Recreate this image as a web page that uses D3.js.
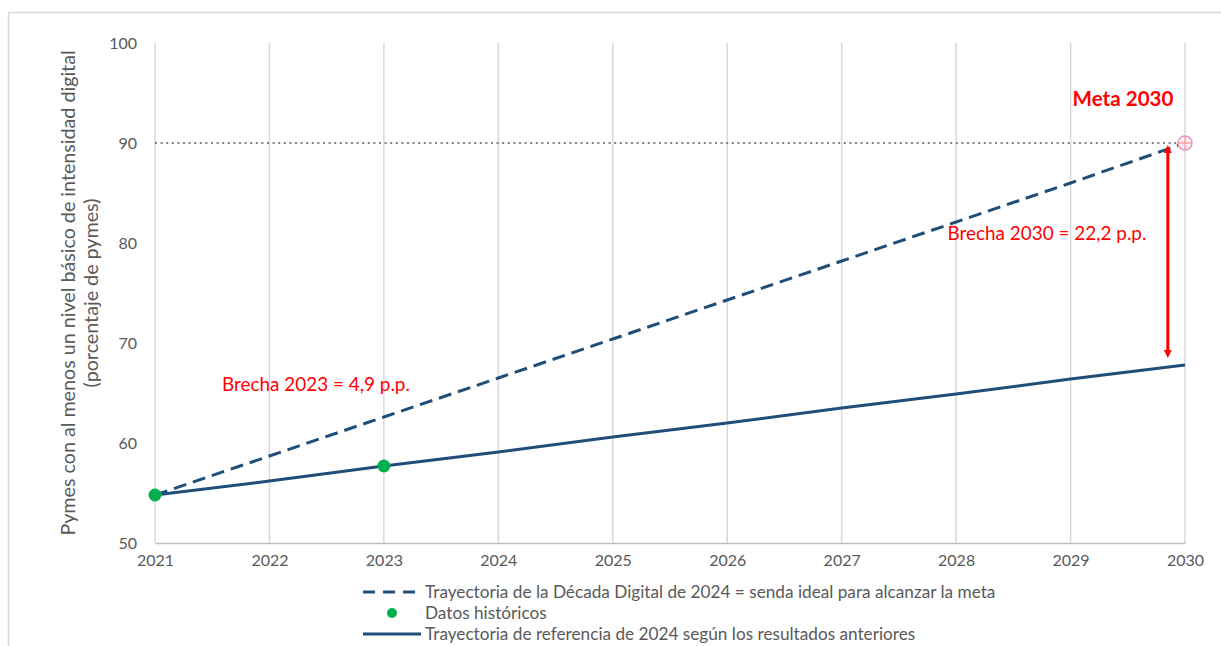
<!DOCTYPE html>
<html>
<head>
<meta charset="utf-8">
<script src="https://cdn.jsdelivr.net/npm/d3@7/dist/d3.min.js"></script>
<style>
  html, body { margin: 0; padding: 0; background: #fff; }
  svg { display: block; font-family: Lato, "Open Sans", sans-serif; }
</style>
</head>
<body>
<svg id="chart" width="1221" height="646"></svg>
<script>
// Years on the horizontal axis
const years = [2021, 2022, 2023, 2024, 2025, 2026, 2027, 2028, 2029, 2030];
// Ideal path of the 2024 Digital Decade towards the 2030 target
const idealPath = [54.8, 58.7, 62.6, 66.5, 70.4, 74.3, 78.2, 82.1, 86.0, 90.0];
// Reference trajectory based on previous results
const referencePath = [54.8, 56.2, 57.7, 59.1, 60.6, 62.0, 63.5, 64.9, 66.4, 67.8];
// Historical observations
const histYears = [2021, 2023];
const histValues = [54.8, 57.7];
// Target
const targetYear = 2030;
const targetValue = 90;
// Gap arrow (year, from, to)
const gapYear = 2029.85;
const gapFrom = 89.4;
const gapTo = 68.9;
const yTicks = [50, 60, 70, 80, 90, 100];
const legendLabels = [
  "Trayectoria de la Década Digital de 2024 = senda ideal para alcanzar la meta",
  "Datos históricos",
  "Trayectoria de referencia de 2024 según los resultados anteriores"
];

const navy = "#1f4e79", green = "#00b050", red = "#ff0000", grey = "#595959", grid = "#d9d9d9";

const svg = d3.select("#chart");
const x = d3.scaleLinear().domain([2021, 2030]).range([155, 1185]);
const y = d3.scaleLinear().domain([50, 100]).range([543, 43]);

// Outer frame
svg.append("rect").attr("x", 8.5).attr("y", 12.5).attr("width", 1240).attr("height", 660)
  .attr("fill", "none").attr("stroke", grid).attr("stroke-width", 1.5);

// Vertical gridlines
svg.append("g").selectAll("line").data(years).join("line")
  .attr("x1", d => x(d)).attr("x2", d => x(d))
  .attr("y1", y(100)).attr("y2", y(50))
  .attr("stroke", grid).attr("stroke-width", 1.5);

// X axis
const xAxis = svg.append("g").attr("transform", `translate(0,${y(50)})`)
  .call(d3.axisBottom(x).tickValues(years).tickFormat(d3.format("d")).tickSize(0).tickPadding(12));
xAxis.select(".domain").attr("stroke", "#bfbfbf").attr("stroke-width", 1.5);
xAxis.selectAll("text").attr("fill", grey).style("font-size", "16px").style("font-family", "Lato, sans-serif");

// Y axis
const yAxis = svg.append("g").attr("transform", `translate(${x(2021)},0)`)
  .call(d3.axisLeft(y).tickValues(yTicks).tickSize(0).tickPadding(18));
yAxis.select(".domain").remove();
yAxis.selectAll("text").attr("fill", grey).style("font-size", "16px").style("font-family", "Lato, sans-serif");

// Y axis title
const yTitle = svg.append("text").attr("transform", "translate(0,293) rotate(-90)")
  .attr("text-anchor", "middle").attr("fill", grey).style("font-size", "19.7px");
yTitle.append("tspan").attr("x", 0).attr("y", 75).text("Pymes con al menos un nivel básico de intensidad digital");
yTitle.append("tspan").attr("x", 0).attr("y", 98).text("(porcentaje de pymes)");

// Target level (dotted)
svg.append("line").attr("x1", x(2021)).attr("x2", x(2030) - 6)
  .attr("y1", y(targetValue)).attr("y2", y(targetValue))
  .attr("stroke", "#7f7f7f").attr("stroke-width", 2.2).attr("stroke-dasharray", "2 3.6");

const line = d3.line().x((d, i) => x(years[i])).y(d => y(d));

// Ideal path (dashed)
svg.append("path").datum(idealPath).attr("d", line)
  .attr("fill", "none").attr("stroke", navy).attr("stroke-width", 3)
  .attr("stroke-dasharray", "13 7");

// Reference trajectory (solid)
svg.append("path").datum(referencePath).attr("d", line)
  .attr("fill", "none").attr("stroke", navy).attr("stroke-width", 3);

// Historical points
svg.append("g").selectAll("circle").data(histYears).join("circle")
  .attr("cx", d => x(d)).attr("cy", (d, i) => y(histValues[i])).attr("r", 6.5)
  .attr("fill", green);

// Target marker
const tg = svg.append("g").attr("transform", `translate(${x(targetYear)},${y(targetValue)})`);
tg.append("circle").attr("r", 7).attr("fill", "#fdeef5").attr("stroke", "#e59ac3").attr("stroke-width", 1.5);
tg.append("line").attr("x1", -7).attr("x2", 7).attr("stroke", "#f08080").attr("stroke-width", 1);
tg.append("line").attr("y1", -7).attr("y2", 7).attr("stroke", "#f08080").attr("stroke-width", 1);

// Gap arrow
const defs = svg.append("defs");
defs.append("marker").attr("id", "arr")
  .attr("viewBox", "0 0 10 10").attr("refX", 5).attr("refY", 5)
  .attr("markerWidth", 2.6).attr("markerHeight", 2.6)
  .attr("orient", "auto-start-reverse")
  .append("path").attr("d", "M0,0 L10,5 L0,10 Z").attr("fill", red);
svg.append("line").attr("x1", x(gapYear)).attr("x2", x(gapYear))
  .attr("y1", y(gapFrom)).attr("y2", y(gapTo))
  .attr("stroke", red).attr("stroke-width", 3)
  .attr("marker-start", "url(#arr)").attr("marker-end", "url(#arr)");

// Annotations
svg.append("text").attr("x", 1123).attr("y", 106).attr("text-anchor", "middle")
  .attr("fill", red).style("font-size", "20.6px").style("font-weight", "bold").text("Meta 2030");
svg.append("text").attr("x", 1047).attr("y", 240).attr("text-anchor", "middle")
  .attr("fill", red).style("font-size", "18.9px").text("Brecha 2030 = 22,2 p.p.");
svg.append("text").attr("x", 316).attr("y", 391).attr("text-anchor", "middle")
  .attr("fill", red).style("font-size", "18.9px").text("Brecha 2023 = 4,9 p.p.");

// Legend
const lg = svg.append("g");
const ly = [592, 613, 634];
lg.append("line").attr("x1", 363).attr("x2", 421).attr("y1", ly[0]).attr("y2", ly[0])
  .attr("stroke", navy).attr("stroke-width", 3).attr("stroke-dasharray", "12 8");
lg.append("circle").attr("cx", 392).attr("cy", ly[1]).attr("r", 5).attr("fill", green);
lg.append("line").attr("x1", 363).attr("x2", 421).attr("y1", ly[2]).attr("y2", ly[2])
  .attr("stroke", navy).attr("stroke-width", 3);
lg.selectAll("text").data(legendLabels).join("text")
  .attr("x", 425).attr("y", (d, i) => ly[i]).attr("dy", "0.35em")
  .attr("fill", grey).style("font-size", "17.2px").text(d => d);
</script>
</body>
</html>
